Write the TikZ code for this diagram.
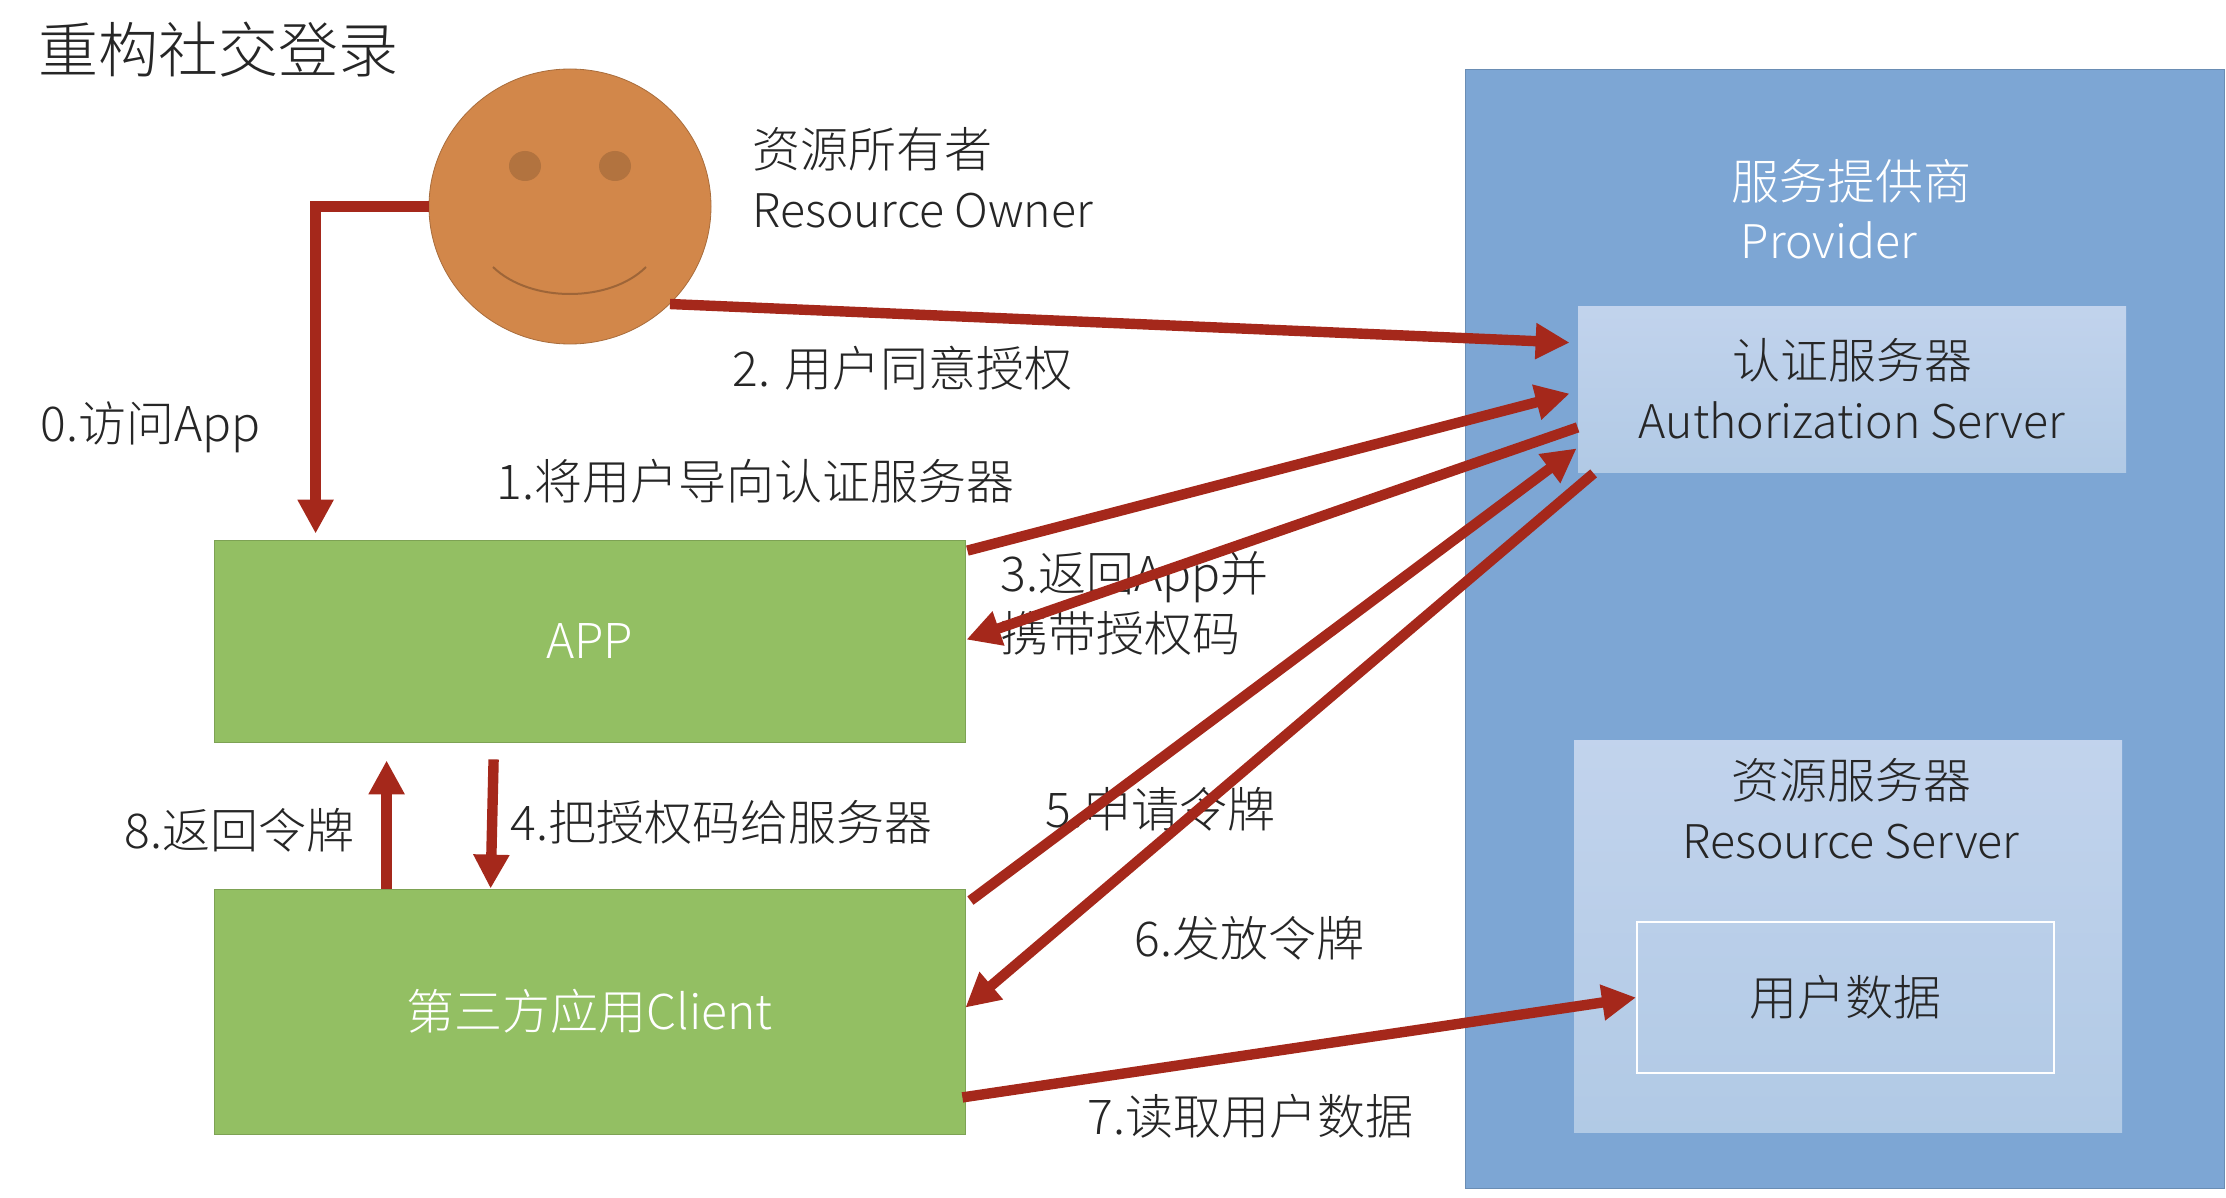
\documentclass[tikz,border=0pt]{standalone}
\usepackage{fontspec}
\setmainfont{Noto Sans CJK SC Light}
\usetikzlibrary{arrows.meta,shapes.geometric}

\definecolor{flowred}{HTML}{A5281B}
\definecolor{boxgreen}{HTML}{93BF63}
\definecolor{boxblue}{HTML}{7DA6D4}
\definecolor{faceorange}{HTML}{D2874A}

\newcommand{\latintext}[1]{{\fontsize{23.2}{30}\selectfont #1}}

\tikzset{
    lbl/.style={anchor=west,inner sep=0pt,text=black!85,font=\fontsize{24}{30}\selectfont,align=left},
    greenbox/.style={draw=boxgreen!85!black,fill=boxgreen,text=white,minimum width=375.5pt,font=\fontsize{24}{30}\selectfont},
    paleblue/.style={top color=blue!5!boxblue!45!white,bottom color=boxblue!60!white,text=black!85,minimum width=274pt,align=center,font=\fontsize{24}{30}\selectfont},
    eye/.style={ellipse,fill=faceorange!85!black,minimum width=16pt,minimum height=15pt,inner sep=0pt},
    flow/.style={draw=flowred,line width=5.2pt,-{Triangle[length=17pt,width=17pt]}},
}

\begin{document}
\begin{tikzpicture}[x=0.5pt,y=-0.5pt]
    \useasboundingbox (0,0) rectangle (2226,1198);

    % right side
    \node [draw=boxblue!85!black,fill=boxblue,minimum width=379.5pt,minimum height=559.5pt] (provider) at (1844.5,628.5) {};
    \node [paleblue,minimum height=83pt] (authsrv) at (1852,389) {认证服务器\\\latintext{Authorization Server}};
    \node [paleblue,minimum height=196pt] (ressrv) at (1848,936) {};
    \node [draw=white,line width=1pt,minimum width=208.5pt,minimum height=75.5pt,text=black!85,font=\fontsize{24}{30}\selectfont] (userdata) at (1845.5,997.5) {用户数据};
    \node [inner sep=0pt,text=white,font=\fontsize{24}{30}\selectfont] (provname) at (1851,181) {服务提供商};
    \node [inner sep=0pt,text=white,font=\fontsize{24}{30}\selectfont] (provtext) at (1829,240) {\latintext{Provider}};
    \node [inner sep=0pt,text=black!85,align=center,font=\fontsize{24}{30}\selectfont] (restext) at (1851,809) {资源服务器\\\latintext{Resource Server}};

    % owner
    \node [ellipse,draw=faceorange!80!black,fill=faceorange,minimum width=141pt,minimum height=137.5pt,inner sep=0pt] (owner) at (570,206.5) {};
    \node [eye] (eyeleft) at (525,166) {};
    \node [eye] (eyeright) at (615,166) {};
    \draw [faceorange!75!black,line width=1pt] (493,267) .. controls (530,303) and (610,303) .. (646,267);

    % left side
    \node [greenbox,minimum height=101pt] (app) at (589.5,641) {APP};
    \node [greenbox,minimum height=122.5pt] (client) at (589.5,1011.5) {第三方应用Client};

    % texts
    \node [lbl,font=\fontsize{30}{36}\selectfont] (title) at (38,50) {重构社交登录};
    \node [lbl] (ownertext) at (752,178) {资源所有者\\\latintext{Resource Owner}};
    \node [lbl] (step0) at (40,427) {0.访问App};
    \node [lbl] (step1) at (496,481) {1.将用户导向认证服务器};
    \node [lbl] (step2) at (732,368) {2. 用户同意授权};
    \node [lbl] (step3) at (1000,603) {3.返回App并\\携带授权码};
    \node [lbl] (step4) at (510,822) {4.把授权码给服务器};
    \node [lbl] (step5) at (1045,809) {5.申请令牌};
    \node [lbl] (step6) at (1134,938) {6.发放令牌};
    \node [lbl] (step7) at (1087,1116) {7.读取用户数据};
    \node [lbl] (step8) at (124,830) {8.返回令牌};

    % arrows
    \draw [flow] (owner.west) -| ([xshift=51pt,yshift=3pt]app.north west);
    \draw [flow] (owner.south east) -- ([xshift=-4pt,yshift=-18.5pt]authsrv.north west);
    \draw [flow] ([xshift=1pt,yshift=-5.5pt]app.north east) -- ([xshift=-4pt,yshift=-44pt]authsrv.north west);
    \draw [flow] ([yshift=22.5pt]authsrv.south west) -- ([xshift=.5pt,yshift=-50pt]app.north east);
    \draw [flow] ([xshift=140pt,yshift=-8.5pt]app.south west) -- ([xshift=138.5pt]client.north west);
    \draw [flow] ([xshift=2.5pt,yshift=-6pt]client.north east) -- ([xshift=-.5pt,yshift=12pt]authsrv.south west);
    \draw [flow] ([xshift=8pt,yshift=-.5pt]authsrv.south west) -- ([yshift=-59.5pt]client.north east);
    \draw [flow] ([xshift=-1.5pt,yshift=18.5pt]client.south east) -- (userdata.west);
    \draw [flow] ([xshift=86.5pt]client.north west) -- ([xshift=86.5pt,yshift=-9pt]app.south west);

\end{tikzpicture}
\end{document}
